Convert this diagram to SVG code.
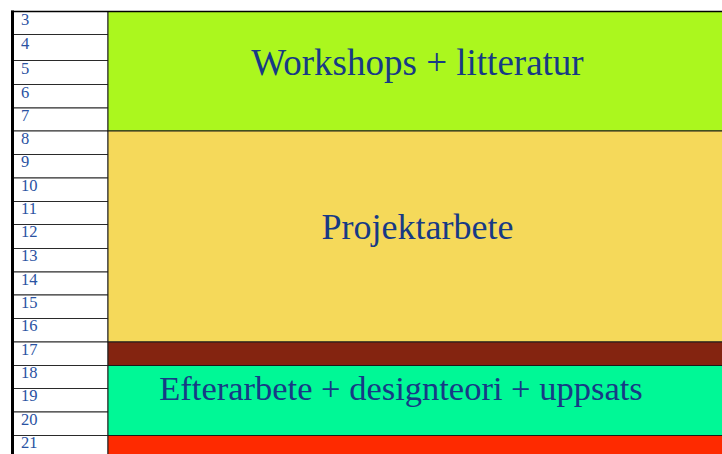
<svg xmlns="http://www.w3.org/2000/svg" width="722" height="454" viewBox="0 0 722 454">
<style>
.num{font-family:"Liberation Serif","Times New Roman",serif;font-size:16.5px;fill:#2a52a2}
.lbl{font-family:"Liberation Serif","Times New Roman",serif;fill:#173a85;text-anchor:middle}
.row{fill:#ffffff;stroke:#2a2a2a;stroke-width:1}
.blk{stroke:#1a1a1a;stroke-width:1}
</style>
<rect x="0" y="0" width="722" height="454" fill="#ffffff"/>
<g id="rows">
<rect class="row" x="13" y="11.5" width="95" height="23"/>
<rect class="row" x="13" y="34.5" width="95" height="26"/>
<rect class="row" x="13" y="60.5" width="95" height="24"/>
<rect class="row" x="13" y="84.5" width="95" height="23.5"/>
<rect class="row" x="13" y="108" width="95" height="23"/>
<rect class="row" x="13" y="131" width="95" height="23.5"/>
<rect class="row" x="13" y="154.5" width="95" height="23.5"/>
<rect class="row" x="13" y="178" width="95" height="23.5"/>
<rect class="row" x="13" y="201.5" width="95" height="23"/>
<rect class="row" x="13" y="224.5" width="95" height="24"/>
<rect class="row" x="13" y="248.5" width="95" height="23.5"/>
<rect class="row" x="13" y="272" width="95" height="23"/>
<rect class="row" x="13" y="295" width="95" height="23.5"/>
<rect class="row" x="13" y="318.5" width="95" height="23.5"/>
<rect class="row" x="13" y="342" width="95" height="23.5"/>
<rect class="row" x="13" y="365.5" width="95" height="23"/>
<rect class="row" x="13" y="388.5" width="95" height="23.5"/>
<rect class="row" x="13" y="412" width="95" height="23.5"/>
<rect class="row" x="13" y="435.5" width="95" height="20"/>
<text class="num" x="21" y="25">3</text>
<text class="num" x="21" y="49">4</text>
<text class="num" x="21" y="74">5</text>
<text class="num" x="21" y="98">6</text>
<text class="num" x="21" y="121">7</text>
<text class="num" x="21" y="144">8</text>
<text class="num" x="21" y="167">9</text>
<text class="num" x="21" y="191">10</text>
<text class="num" x="21" y="214">11</text>
<text class="num" x="21" y="237">12</text>
<text class="num" x="21" y="261">13</text>
<text class="num" x="21" y="285">14</text>
<text class="num" x="21" y="308">15</text>
<text class="num" x="21" y="331">16</text>
<text class="num" x="21" y="355">17</text>
<text class="num" x="21" y="378">18</text>
<text class="num" x="21" y="401">19</text>
<text class="num" x="21" y="425">20</text>
<text class="num" x="21" y="448">21</text>
<line x1="12.5" y1="10.5" x2="12.5" y2="454" stroke="#000" stroke-width="3"/>
</g>
<g id="workshops">
<rect class="blk" x="108" y="11.5" width="616" height="119.5" fill="#abf71e"/>
<text class="lbl" x="417.5" y="75" font-size="37">Workshops + litteratur</text>
</g>
<g id="projektarbete">
<rect class="blk" x="108" y="131" width="616" height="211" fill="#f5d95a"/>
<text class="lbl" x="417.5" y="238.5" font-size="36">Projektarbete</text>
</g>
<g id="brown">
<rect class="blk" x="108" y="342" width="616" height="23.5" fill="#842410"/>
</g>
<g id="efterarbete">
<rect class="blk" x="108" y="365.5" width="616" height="70" fill="#00f896"/>
<text class="lbl" x="401" y="400" font-size="34.5">Efterarbete + designteori + uppsats</text>
</g>
<g id="red">
<rect class="blk" x="108" y="435.5" width="616" height="20" fill="#fe2a00"/>
</g>
<line x1="11" y1="11.5" x2="722" y2="11.5" stroke="#000" stroke-width="1.5"/>
</svg>
